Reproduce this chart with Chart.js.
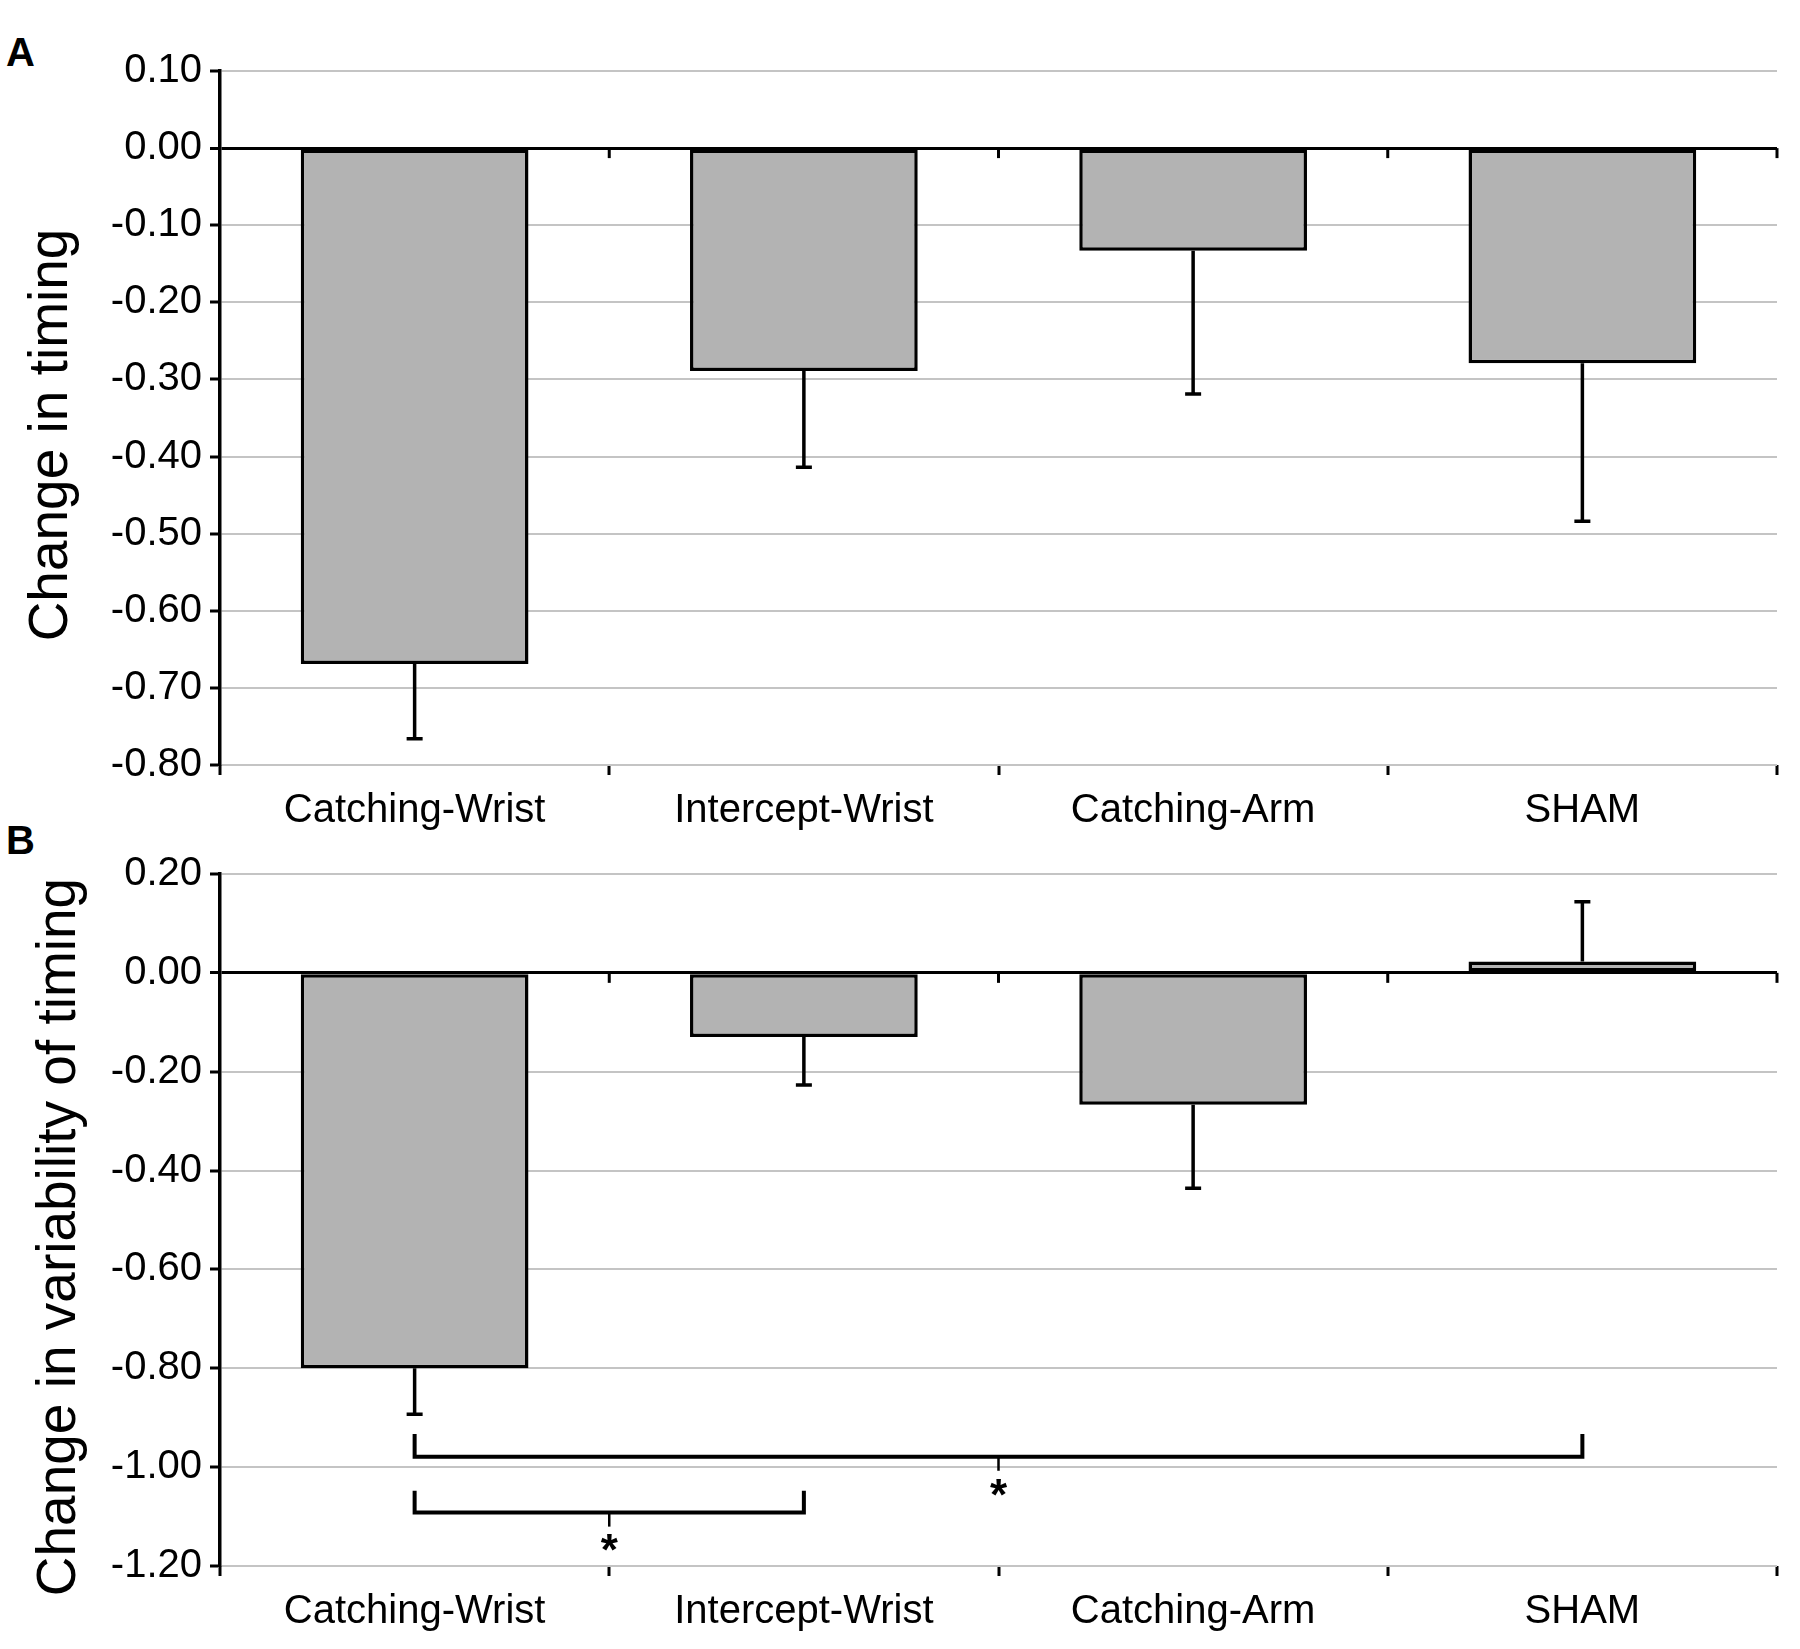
<!DOCTYPE html>
<html lang="en">
<head>
  <meta charset="UTF-8">
  <title>Change in timing</title>
  <script src="https://cdn.jsdelivr.net/npm/chart.js"></script>
  <style>
    body { margin: 0; background: #fff; width: 1800px; height: 1649px; position: relative; font-family: "Liberation Sans", Arial, sans-serif; }
    canvas { position: absolute; left: 0; }
    #chartA { top: 0; }
    #chartB { top: 840px; }
    .panel { position: absolute; left: 6px; font-weight: bold; font-size: 40px; line-height: 40px; color: #000; }
  </style>
</head>
<body>
  <div class="panel" style="top:32px">A</div>
  <div class="panel" style="top:820px">B</div>
  <canvas id="chartA" width="1800" height="840"></canvas>
  <canvas id="chartB" width="1800" height="809"></canvas>

  <script>
    // data
    const groups = ['Catching-Wrist', 'Intercept-Wrist', 'Catching-Arm', 'SHAM'];

    const timingMeans = [-0.669, -0.289, -0.133, -0.279];
    const timingErrors = [0.097, 0.125, 0.186, 0.205];
    const timingTicks = [0.10, 0.00, -0.10, -0.20, -0.30, -0.40, -0.50, -0.60, -0.70, -0.80];

    const variabilityMeans = [-0.80, -0.13, -0.267, 0.023];
    const variabilityErrors = [0.093, 0.097, 0.169, 0.121];
    const variabilityTicks = [0.20, 0.00, -0.20, -0.40, -0.60, -0.80, -1.00, -1.20];

    // significance brackets in panel B (group index from/to, bracket level, arm top, star level)
    const bracketFrom = [0, 0];
    const bracketTo = [3, 1];
    const bracketLevel = [-0.979, -1.092];
    const bracketArmTop = [-0.933, -1.048];
    const starLevel = [-1.042, -1.153];

    const FONT = '"Liberation Sans", Arial, sans-serif';

    // one-sided error bars, drawn away from zero
    const errorBarPlugin = {
      id: 'errorBars',
      afterDatasetsDraw(chart, args, opts) {
        const ctx = chart.ctx;
        const y = chart.scales.y;
        const meta = chart.getDatasetMeta(0);
        ctx.save();
        ctx.strokeStyle = '#000';
        ctx.lineWidth = 3.5;
        meta.data.forEach((bar, i) => {
          const v = opts.means[i];
          const end = v + Math.sign(v) * opts.errors[i];
          const y0 = y.getPixelForValue(v);
          const y1 = y.getPixelForValue(end);
          ctx.beginPath();
          ctx.moveTo(bar.x, y0);
          ctx.lineTo(bar.x, y1);
          ctx.moveTo(bar.x - 8, y1);
          ctx.lineTo(bar.x + 8, y1);
          ctx.stroke();
        });
        ctx.restore();
      }
    };

    // small tick marks under the zero line at the category boundaries
    const zeroTicksPlugin = {
      id: 'zeroTicks',
      afterDatasetsDraw(chart) {
        const ctx = chart.ctx;
        const x = chart.scales.x;
        const y0 = chart.scales.y.getPixelForValue(0);
        const half = (x.getPixelForValue(1) - x.getPixelForValue(0)) / 2;
        ctx.save();
        ctx.strokeStyle = '#000';
        ctx.lineWidth = 3;
        for (let i = 0; i < groups.length; i++) {
          const bx = x.getPixelForValue(i) + half;
          ctx.beginPath();
          ctx.moveTo(bx, y0);
          ctx.lineTo(bx, y0 + 10);
          ctx.stroke();
        }
        ctx.restore();
      }
    };

    const bracketPlugin = {
      id: 'brackets',
      afterDatasetsDraw(chart, args, opts) {
        if (!opts.show) return;
        const ctx = chart.ctx;
        const x = chart.scales.x;
        const y = chart.scales.y;
        ctx.save();
        ctx.strokeStyle = '#000';
        ctx.fillStyle = '#000';
        ctx.font = 'bold 44px ' + FONT;
        ctx.textAlign = 'center';
        ctx.textBaseline = 'middle';
        for (let i = 0; i < bracketFrom.length; i++) {
          const xa = x.getPixelForValue(bracketFrom[i]);
          const xb = x.getPixelForValue(bracketTo[i]);
          const xm = (xa + xb) / 2;
          const yl = y.getPixelForValue(bracketLevel[i]);
          const yt = y.getPixelForValue(bracketArmTop[i]);
          ctx.lineWidth = 4;
          ctx.beginPath();
          ctx.moveTo(xa, yt);
          ctx.lineTo(xa, yl);
          ctx.lineTo(xb, yl);
          ctx.lineTo(xb, yt);
          ctx.stroke();
          ctx.lineWidth = 2.5;
          ctx.beginPath();
          ctx.moveTo(xm, yl);
          ctx.lineTo(xm, yl + 14);
          ctx.stroke();
          ctx.fillText('*', xm, y.getPixelForValue(starLevel[i]) + 10);
        }
        ctx.restore();
      }
    };

    // rotated y-axis title, centred a little below the middle of the plot as in the figure
    const sideTitlePlugin = {
      id: 'sideTitle',
      afterDraw(chart, args, opts) {
        const ctx = chart.ctx;
        const a = chart.chartArea;
        ctx.save();
        ctx.fillStyle = '#000';
        ctx.font = '55px ' + FONT;
        ctx.textAlign = 'center';
        ctx.textBaseline = 'middle';
        ctx.translate(opts.x, (a.top + a.bottom) / 2 + opts.dy);
        ctx.rotate(-Math.PI / 2);
        ctx.fillText(opts.text, 0, 0);
        ctx.restore();
      }
    };

    function makeChart(id, means, errors, tickValues, title, opts) {
      return new Chart(document.getElementById(id), {
        type: 'bar',
        data: {
          labels: groups,
          datasets: [{
            data: means,
            backgroundColor: '#b3b3b3',
            borderColor: '#000',
            borderWidth: 3.5,
            borderSkipped: false,
            barPercentage: 0.585,
            categoryPercentage: 1.0
          }]
        },
        options: {
          responsive: false,
          animation: false,
          devicePixelRatio: 1,
          layout: { padding: { top: opts.top, right: 23, left: 0, bottom: 0 } },
          plugins: {
            legend: { display: false },
            tooltip: { enabled: false },
            errorBars: { means: means, errors: errors },
            brackets: { show: opts.brackets },
            sideTitle: { text: title, x: opts.titleX, dy: 17 }
          },
          scales: {
            x: {
              afterFit(scale) { scale.height = opts.xHeight; },
              grid: {
                color: (c) => c.index === groups.length ? '#bdbdbd' : 'rgba(0,0,0,0)',
                lineWidth: 2,
                tickColor: '#000',
                tickWidth: 3,
                tickLength: 10
              },
              border: { display: false },
              ticks: {
                color: '#000',
                font: { family: FONT, size: 40 },
                padding: 12
              }
            },
            y: {
              min: tickValues[tickValues.length - 1],
              max: tickValues[0],
              afterFit(scale) { scale.width = 220; },
              afterBuildTicks(scale) {
                scale.ticks = tickValues.slice().reverse().map(v => ({ value: v }));
              },
              grid: {
                color: (c) => Math.abs(c.tick.value) < 1e-9 ? '#000' : '#c4c4c4',
                lineWidth: (c) => Math.abs(c.tick.value) < 1e-9 ? 3 : 2,
                tickColor: '#000',
                tickWidth: 3,
                tickLength: 10
              },
              border: { color: '#000', width: 3.5 },
              ticks: {
                color: '#000',
                font: { family: FONT, size: 40 },
                padding: 8,
                callback: (v) => Number(v).toFixed(2)
              }
            }
          }
        },
        plugins: [zeroTicksPlugin, errorBarPlugin, bracketPlugin, sideTitlePlugin]
      });
    }

    makeChart('chartA', timingMeans, timingErrors, timingTicks, 'Change in timing',
      { top: 71, xHeight: 75, titleX: 52, brackets: false });
    makeChart('chartB', variabilityMeans, variabilityErrors, variabilityTicks, 'Change in variability of timing',
      { top: 34, xHeight: 83, titleX: 60, brackets: true });
  </script>
</body>
</html>
